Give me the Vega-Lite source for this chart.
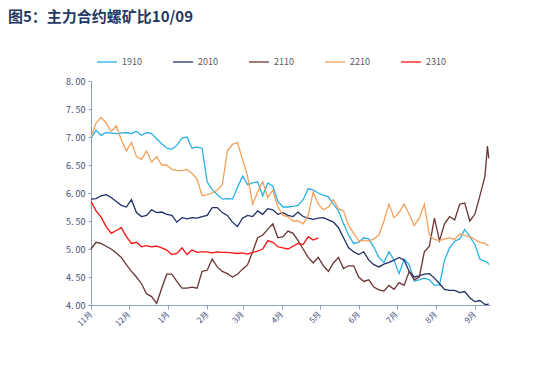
{
  "$schema": "https://vega.github.io/schema/vega-lite/v6.json",
  "autosize": {"type": "none"},
  "width": 399,
  "height": 224,
  "padding": {"left": 91, "top": 81, "right": 55, "bottom": 68},
  "background": "white",
  "title": {
    "text": "图5：主力合约螺矿比10/09",
    "anchor": "start",
    "frame": "group",
    "dx": -83,
    "font": "Noto Sans CJK SC",
    "fontSize": 15,
    "fontWeight": "bold",
    "color": "#1f3864",
    "offset": 26
  },
  "data": {
    "values": [
      {"d": "2022-11-01T00:00", "1910": 6.98, "2010": 5.89, "2110": 5.0, "2210": 7.0, "2310": 5.85},
      {"d": "2022-11-05T00:00", "1910": 7.12, "2010": 5.9, "2110": 5.12, "2210": 7.25, "2310": 5.68},
      {"d": "2022-11-09T00:00", "1910": 7.03, "2010": 5.95, "2110": 5.1, "2210": 7.35, "2310": 5.57},
      {"d": "2022-11-13T00:00", "1910": 7.08, "2010": 5.97, "2110": 5.05, "2210": 7.25, "2310": 5.4},
      {"d": "2022-11-17T00:00", "1910": 7.07, "2010": 5.92, "2110": 5.0, "2210": 7.1, "2310": 5.28},
      {"d": "2022-11-21T00:00", "1910": 7.06, "2010": 5.85, "2110": 4.93, "2210": 7.2, "2310": 5.33},
      {"d": "2022-11-25T00:00", "1910": 7.07, "2010": 5.78, "2110": 4.85, "2210": 6.95, "2310": 5.38},
      {"d": "2022-11-29T00:00", "1910": 7.08, "2010": 5.75, "2110": 4.72, "2210": 6.75, "2310": 5.22},
      {"d": "2022-12-03T00:00", "1910": 7.06, "2010": 5.88, "2110": 4.6, "2210": 6.9, "2310": 5.1},
      {"d": "2022-12-07T00:00", "1910": 7.1, "2010": 5.65, "2110": 4.5, "2210": 6.65, "2310": 5.12},
      {"d": "2022-12-11T00:00", "1910": 7.03, "2010": 5.58, "2110": 4.38, "2210": 6.6, "2310": 5.04},
      {"d": "2022-12-15T00:00", "1910": 7.08, "2010": 5.6, "2110": 4.2, "2210": 6.75, "2310": 5.06},
      {"d": "2022-12-19T00:00", "1910": 7.06, "2010": 5.7, "2110": 4.15, "2210": 6.55, "2310": 5.04},
      {"d": "2022-12-23T00:00", "1910": 6.97, "2010": 5.65, "2110": 4.03, "2210": 6.65, "2310": 5.05},
      {"d": "2022-12-27T00:00", "1910": 6.88, "2010": 5.66, "2110": 4.3, "2210": 6.5, "2310": 5.02},
      {"d": "2022-12-31T00:00", "1910": 6.8, "2010": 5.62, "2110": 4.55, "2210": 6.5, "2310": 4.98},
      {"d": "2023-01-04T00:00", "1910": 6.78, "2010": 5.6, "2110": 4.55, "2210": 6.42, "2310": 4.9},
      {"d": "2023-01-08T00:00", "1910": 6.85, "2010": 5.48, "2110": 4.42, "2210": 6.4, "2310": 4.92},
      {"d": "2023-01-12T00:00", "1910": 6.98, "2010": 5.56, "2110": 4.3, "2210": 6.4, "2310": 5.02},
      {"d": "2023-01-16T00:00", "1910": 7.0, "2010": 5.54, "2110": 4.3, "2210": 6.42, "2310": 4.9},
      {"d": "2023-01-20T00:00", "1910": 6.8, "2010": 5.56, "2110": 4.32, "2210": 6.35, "2310": 4.98},
      {"d": "2023-01-24T00:00", "1910": 6.82, "2010": 5.55, "2110": 4.3, "2210": 6.25, "2310": 4.94},
      {"d": "2023-01-28T00:00", "1910": 6.8, "2010": 5.58, "2110": 4.6, "2210": 5.95, "2310": 4.95},
      {"d": "2023-02-01T00:00", "1910": 6.2, "2010": 5.6, "2110": 4.62, "2210": 5.97, "2310": 4.95},
      {"d": "2023-02-05T00:00", "1910": 6.06, "2010": 5.74, "2110": 4.82, "2210": 6.0, "2310": 4.93},
      {"d": "2023-02-09T00:00", "1910": 5.97, "2010": 5.74, "2110": 4.68, "2210": 6.05, "2310": 4.95},
      {"d": "2023-02-13T00:00", "1910": 5.89, "2010": 5.65, "2110": 4.6, "2210": 6.15, "2310": 4.94},
      {"d": "2023-02-17T00:00", "1910": 5.9, "2010": 5.6, "2110": 4.56, "2210": 6.75, "2310": 4.94},
      {"d": "2023-02-21T00:00", "1910": 5.89, "2010": 5.48, "2110": 4.5, "2210": 6.87, "2310": 4.93},
      {"d": "2023-02-25T00:00", "1910": 6.1, "2010": 5.4, "2110": 4.55, "2210": 6.9, "2310": 4.92},
      {"d": "2023-03-01T00:00", "1910": 6.3, "2010": 5.55, "2110": 4.64, "2210": 6.6, "2310": 4.93},
      {"d": "2023-03-05T00:00", "1910": 6.15, "2010": 5.6, "2110": 4.72, "2210": 6.3, "2310": 4.91},
      {"d": "2023-03-09T00:00", "1910": 6.18, "2010": 5.58, "2110": 4.95, "2210": 5.8, "2310": 4.94},
      {"d": "2023-03-13T00:00", "1910": 6.2, "2010": 5.68, "2110": 5.2, "2210": 6.02, "2310": 4.96},
      {"d": "2023-03-17T00:00", "1910": 5.95, "2010": 5.62, "2110": 5.25, "2210": 6.2, "2310": 5.0},
      {"d": "2023-03-21T00:00", "1910": 6.18, "2010": 5.72, "2110": 5.35, "2210": 5.92, "2310": 5.15},
      {"d": "2023-03-25T00:00", "1910": 6.12, "2010": 5.7, "2110": 5.45, "2210": 6.05, "2310": 5.12},
      {"d": "2023-03-29T00:00", "1910": 5.85, "2010": 5.62, "2110": 5.2, "2210": 5.75, "2310": 5.04},
      {"d": "2023-04-02T00:00", "1910": 5.75, "2010": 5.65, "2110": 5.22, "2210": 5.6, "2310": 5.02},
      {"d": "2023-04-06T00:00", "1910": 5.75, "2010": 5.6, "2110": 5.32, "2210": 5.58, "2310": 5.0},
      {"d": "2023-04-10T00:00", "1910": 5.76, "2010": 5.58, "2110": 5.28, "2210": 5.5, "2310": 5.05},
      {"d": "2023-04-14T00:00", "1910": 5.78, "2010": 5.66, "2110": 5.15, "2210": 5.5, "2310": 5.1},
      {"d": "2023-04-18T00:00", "1910": 5.88, "2010": 5.58, "2110": 5.0, "2210": 5.45, "2310": 5.08},
      {"d": "2023-04-22T00:00", "1910": 6.08, "2010": 5.55, "2110": 4.85, "2210": 5.6, "2310": 5.22},
      {"d": "2023-04-26T00:00", "1910": 6.05, "2010": 5.53, "2110": 4.75, "2210": 6.02, "2310": 5.16},
      {"d": "2023-04-30T00:00", "1910": 6.0, "2010": 5.55, "2110": 4.85, "2210": 5.8, "2310": 5.2},
      {"d": "2023-05-04T00:00", "1910": 5.96, "2010": 5.56, "2110": 4.7, "2210": 5.7},
      {"d": "2023-05-08T00:00", "1910": 5.93, "2010": 5.52, "2110": 4.6, "2210": 5.75},
      {"d": "2023-05-12T00:00", "1910": 5.8, "2010": 5.48, "2110": 4.75, "2210": 5.88},
      {"d": "2023-05-16T00:00", "1910": 5.68, "2010": 5.38, "2110": 4.85, "2210": 5.72},
      {"d": "2023-05-20T00:00", "1910": 5.45, "2010": 5.2, "2110": 4.65, "2210": 5.68},
      {"d": "2023-05-24T00:00", "1910": 5.25, "2010": 5.02, "2110": 4.7, "2210": 5.42},
      {"d": "2023-05-28T00:00", "1910": 5.1, "2010": 4.95, "2110": 4.7, "2210": 5.28},
      {"d": "2023-06-01T00:00", "1910": 5.12, "2010": 4.9, "2110": 4.5, "2210": 5.15},
      {"d": "2023-06-05T00:00", "1910": 5.2, "2010": 4.95, "2110": 4.42, "2210": 5.15},
      {"d": "2023-06-09T00:00", "1910": 5.18, "2010": 4.8, "2110": 4.45, "2210": 5.14},
      {"d": "2023-06-13T00:00", "1910": 5.03, "2010": 4.72, "2110": 4.32, "2210": 5.18},
      {"d": "2023-06-17T00:00", "1910": 4.85, "2010": 4.68, "2110": 4.27, "2210": 5.25},
      {"d": "2023-06-21T00:00", "1910": 4.76, "2010": 4.73, "2110": 4.25, "2210": 5.5},
      {"d": "2023-06-25T00:00", "1910": 4.95, "2010": 4.76, "2110": 4.35, "2210": 5.8},
      {"d": "2023-06-29T00:00", "1910": 4.8, "2010": 4.8, "2110": 4.28, "2210": 5.56},
      {"d": "2023-07-03T00:00", "1910": 4.56, "2010": 4.85, "2110": 4.4, "2210": 5.65},
      {"d": "2023-07-07T00:00", "1910": 4.82, "2010": 4.8, "2110": 4.35, "2210": 5.8},
      {"d": "2023-07-11T00:00", "1910": 4.72, "2010": 4.6, "2110": 4.6, "2210": 5.62},
      {"d": "2023-07-15T00:00", "1910": 4.43, "2010": 4.5, "2110": 4.45, "2210": 5.42},
      {"d": "2023-07-19T00:00", "1910": 4.45, "2010": 4.52, "2110": 4.5, "2210": 5.55},
      {"d": "2023-07-23T00:00", "1910": 4.48, "2010": 4.55, "2110": 4.95, "2210": 5.8},
      {"d": "2023-07-27T00:00", "1910": 4.45, "2010": 4.56, "2110": 5.05, "2210": 5.25},
      {"d": "2023-07-31T00:00", "1910": 4.35, "2010": 4.48, "2110": 5.55, "2210": 5.17},
      {"d": "2023-08-04T00:00", "1910": 4.36, "2010": 4.38, "2110": 5.15, "2210": 5.15},
      {"d": "2023-08-08T00:00", "1910": 4.8, "2010": 4.28, "2110": 5.45, "2210": 5.18},
      {"d": "2023-08-12T00:00", "1910": 5.02, "2010": 4.26, "2110": 5.58, "2210": 5.2},
      {"d": "2023-08-16T00:00", "1910": 5.14, "2010": 4.26, "2110": 5.52, "2210": 5.17},
      {"d": "2023-08-20T00:00", "1910": 5.18, "2010": 4.22, "2110": 5.8, "2210": 5.27},
      {"d": "2023-08-24T00:00", "1910": 5.35, "2010": 4.24, "2110": 5.82, "2210": 5.24},
      {"d": "2023-08-28T00:00", "1910": 5.22, "2010": 4.13, "2110": 5.5, "2210": 5.22},
      {"d": "2023-09-01T00:00", "1910": 5.08, "2010": 4.06, "2110": 5.62, "2210": 5.17},
      {"d": "2023-09-05T00:00", "1910": 4.82, "2010": 4.08, "2110": 5.95, "2210": 5.12},
      {"d": "2023-09-09T00:00", "1910": 4.78, "2010": 4.01, "2110": 6.3, "2210": 5.1},
      {"d": "2023-09-11T00:00", "1910": 4.76, "2010": 4.01, "2110": 6.84, "2210": 5.07},
      {"d": "2023-09-12T00:00", "1910": 4.72, "2010": 4.02, "2110": 6.62, "2210": 5.06}
    ]
  },
  "transform": [
    {"fold": ["1910", "2010", "2110", "2210", "2310"], "as": ["s", "v"]},
    {"filter": "isValid(datum.v)"}
  ],
  "mark": {"type": "line", "interpolate": "linear"},
  "encoding": {
    "x": {
      "field": "d",
      "type": "temporal",
      "scale": {"domain": [{"year": 2022, "month": 11, "date": 1}, {"year": 2023, "month": 9, "date": 13}]},
      "axis": {
        "title": null,
        "grid": false,
        "format": "%-m月",
        "values": [
          {"year": 2022, "month": 11, "date": 1},
          {"year": 2022, "month": 12, "date": 1},
          {"year": 2023, "month": 1, "date": 1},
          {"year": 2023, "month": 2, "date": 1},
          {"year": 2023, "month": 3, "date": 1},
          {"year": 2023, "month": 4, "date": 1},
          {"year": 2023, "month": 5, "date": 1},
          {"year": 2023, "month": 6, "date": 1},
          {"year": 2023, "month": 7, "date": 1},
          {"year": 2023, "month": 8, "date": 1},
          {"year": 2023, "month": 9, "date": 1}
        ],
        "labelAngle": -45,
        "labelAlign": "right",
        "labelBaseline": "middle",
        "labelFont": "Noto Sans CJK SC",
        "labelFontSize": 8,
        "labelColor": "#3c4d78",
        "labelPadding": 4,
        "domainColor": "#8fa0c6",
        "tickColor": "#8fa0c6",
        "tickSize": 4,
        "labelOverlap": false
      }
    },
    "y": {
      "field": "v",
      "type": "quantitative",
      "scale": {"domain": [4, 8], "nice": false, "zero": false},
      "axis": {
        "title": null,
        "grid": false,
        "values": [4, 4.5, 5, 5.5, 6, 6.5, 7, 7.5, 8],
        "labelExpr": "replace(format(datum.value, '.2f'), '.', '. ')",
        "labelFont": "Noto Sans CJK SC",
        "labelFontSize": 9,
        "labelColor": "#3c4d78",
        "domainColor": "#8fa0c6",
        "tickColor": "#8fa0c6",
        "tickSize": 3,
        "labelPadding": 3
      }
    },
    "color": {
      "field": "s",
      "type": "ordinal",
      "scale": {
        "domain": ["1910", "2010", "2110", "2210", "2310"],
        "range": ["#29b1e6", "#1f2f66", "#6b3434", "#f2a05a", "#ff1010"]
      },
      "legend": {
        "title": null,
        "orient": "none",
        "legendX": 5,
        "legendY": -30,
        "direction": "horizontal",
        "symbolType": "stroke",
        "symbolSize": 400,
        "labelFont": "Noto Sans CJK SC",
        "labelFontSize": 9,
        "labelColor": "#595959",
        "columnPadding": 28,
        "labelOffset": 4
      }
    },
    "strokeWidth": {
      "field": "s",
      "type": "ordinal",
      "scale": {
        "domain": ["1910", "2010", "2110", "2210", "2310"],
        "range": [1.3, 1.3, 1.3, 1.3, 2.2]
      },
      "legend": null
    }
  },
  "config": {
    "view": {"stroke": null}
  }
}
